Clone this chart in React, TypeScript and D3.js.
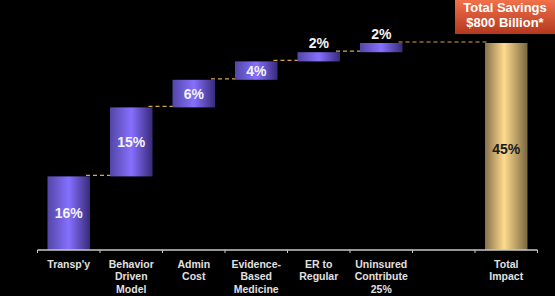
import * as d3 from 'd3';

const W = 555;
const H = 296;
const AXIS_Y = 250;
const TOP_Y = 43;

// category labels (one entry per line); the empty slot sits before the total
const categories = [
  ["Transp'y"],
  ['Behavior', 'Driven', 'Model'],
  ['Admin', 'Cost'],
  ['Evidence-', 'Based', 'Medicine'],
  ['ER to', 'Regular'],
  ['Uninsured', 'Contribute', '25%'],
  [],
  ['Total', 'Impact'],
];
const categoryKeys = ['transp', 'behavior', 'admin', 'evidence', 'er', 'uninsured', 'blank', 'total'];
const stepValues = [16, 15, 6, 4, 2, 2];
const totalValue = 45;

export default function App() {
  const x = d3.scaleBand<string>().domain(categoryKeys).range([37.5, 537.5]).paddingInner(0.32).paddingOuter(0.16);
  const y = d3.scaleLinear().domain([0, totalValue]).range([AXIS_Y, TOP_Y]);
  const bw = x.bandwidth();

  // cumulative start/end for the waterfall steps
  let run = 0;
  const steps = stepValues.map((v, i) => {
    const s = { key: categoryKeys[i], start: run, end: run + v, value: v };
    run += v;
    return s;
  });

  const ticks = d3.range(categoryKeys.length + 1).map(i => 37.5 + i * x.step());

  return (
    <div style={{ position: 'absolute', left: 0, top: 0 }}>
      <svg width={W} height={H} style={{ display: 'block', background: '#000' }} fontFamily="'Liberation Sans', Arial, sans-serif">
        <defs>
          <linearGradient id="purple" x1="0" x2="1" y1="0" y2="0">
            <stop offset="0%" stopColor="#5246a6" />
            <stop offset="50%" stopColor="#8670ff" />
            <stop offset="100%" stopColor="#382a78" />
          </linearGradient>
          <linearGradient id="gold" x1="0" x2="1" y1="0" y2="0">
            <stop offset="0%" stopColor="#86704a" />
            <stop offset="45%" stopColor="#ffdb8e" />
            <stop offset="100%" stopColor="#7a6640" />
          </linearGradient>
          <linearGradient id="red" x1="0" x2="0" y1="0" y2="1">
            <stop offset="0%" stopColor="#f2704a" />
            <stop offset="100%" stopColor="#b3391f" />
          </linearGradient>
        </defs>
        <rect width={W} height={H} fill="#000" />

        {/* dashed connectors */}
        {steps.map((s, i) => {
          const x1 = (x(s.key) as number) + bw - 4;
          const nextKey = i < steps.length - 1 ? steps[i + 1].key : 'total';
          const x2 = (x(nextKey) as number) + 4;
          return (
            <line key={'c' + i} x1={x1} x2={x2} y1={y(s.end) - 1} y2={y(s.end) - 1}
              stroke="#d8a848" strokeWidth={1.2} strokeDasharray="4,3" />
          );
        })}

        {/* step bars */}
        {steps.map(s => {
          const bx = x(s.key) as number;
          const top = y(s.end);
          const h = y(s.start) - top;
          const inside = h > 18;
          return (
            <g key={s.key}>
              <rect x={bx} y={top} width={bw} height={h} fill="url(#purple)" />
              <text x={bx + bw / 2} y={inside ? top + h / 2 + 5 : top - 4} textAnchor="middle"
                fill="#f4f4f4" fontSize={14} fontWeight="bold">{s.value}%</text>
            </g>
          );
        })}

        {/* total bar */}
        <rect x={x('total')} y={y(totalValue)} width={bw} height={y(0) - y(totalValue)} fill="url(#gold)" />
        <text x={(x('total') as number) + bw / 2} y={(y(0) + y(totalValue)) / 2 + 7} textAnchor="middle"
          fill="#1a1a1a" fontSize={14} fontWeight="bold">{totalValue}%</text>

        {/* axis */}
        <line x1={ticks[0]} x2={ticks[ticks.length - 1]} y1={AXIS_Y} y2={AXIS_Y} stroke="#c8c8c8" strokeWidth={1.5} />
        {ticks.map((t, i) => (
          <line key={'t' + i} x1={t} x2={t} y1={AXIS_Y} y2={AXIS_Y + 3} stroke="#c8c8c8" strokeWidth={1} />
        ))}

        {/* category labels */}
        {categories.map((lines, i) => (
          <text key={'l' + i} x={(x(categoryKeys[i]) as number) + bw / 2} textAnchor="middle"
            fill="#e0e0e0" fontSize={10.5} fontWeight="bold">
            {lines.map((ln, j) => (
              <tspan key={j} x={(x(categoryKeys[i]) as number) + bw / 2} y={267.5 + j * 12.5}>{ln}</tspan>
            ))}
          </text>
        ))}

        {/* total savings box */}
        <rect x={455} y={0} width={100} height={34} fill="url(#red)" />
        <text x={505} y={12} textAnchor="middle" fill="#fff" fontSize={13} fontWeight="bold">Total Savings</text>
        <text x={505} y={27} textAnchor="middle" fill="#fff" fontSize={13} fontWeight="bold">$800 Billion*</text>
      </svg>
    </div>
  );
}
